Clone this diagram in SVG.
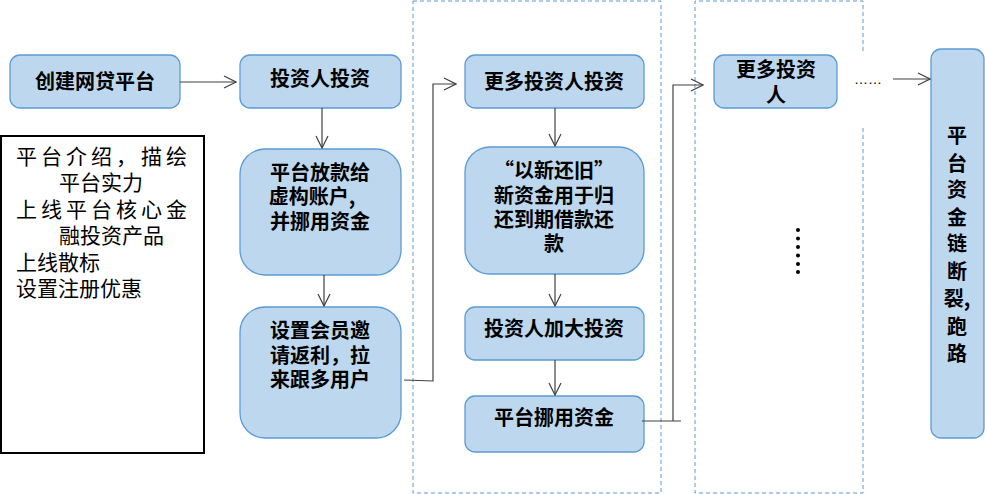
<svg xmlns="http://www.w3.org/2000/svg" width="985" height="494" viewBox="0 0 985 494">
<style>
.n{fill:#bdd7ee;stroke:#5b9bd5;stroke-width:1.3}
.t{font-family:"Noto Sans CJK SC",sans-serif;font-weight:bold;font-size:20px;fill:#000;text-anchor:middle}
.l{font-family:"Noto Sans CJK SC",sans-serif;font-size:21px;fill:#000}
.c{fill:none;stroke:#404040;stroke-width:1.2}
.d{fill:none;stroke:#5b9bd5;stroke-width:1;stroke-dasharray:4,3}
</style>
<defs><marker id="a" markerWidth="14" markerHeight="14" refX="13" refY="7" orient="auto" markerUnits="userSpaceOnUse"><path d="M1,1 L13,7 L1,13" fill="none" stroke="#404040" stroke-width="1.2"/></marker></defs>
<rect width="985" height="494" fill="#fff"/>
<path class="d" d="M413,1 H661 V493 H413 Z"/>
<path class="d" d="M863,128 V493 H695 V1 H863 V53"/>
<g id="n1"><rect class="n" x="10" y="55" width="170" height="53" rx="10"/><text class="t" x="95" y="89">创建网贷平台</text></g>
<g id="n2"><rect class="n" x="240" y="55" width="161" height="53" rx="10"/><text class="t" x="320" y="86">投资人投资</text></g>
<g id="info"><rect x="1" y="136" width="203" height="317" fill="#fff" stroke="#000" stroke-width="2"/>
<text class="l" x="16" y="164" textLength="171" lengthAdjust="spacing">平台介绍，描绘</text>
<text class="l" x="59" y="190">平台实力</text>
<text class="l" x="16" y="217" textLength="171" lengthAdjust="spacing">上线平台核心金</text>
<text class="l" x="59" y="243">融投资产品</text>
<text class="l" x="16" y="270">上线散标</text>
<text class="l" x="16" y="296">设置注册优惠</text></g>
<g id="n3"><rect class="n" x="240" y="149" width="161" height="126" rx="25"/><text class="t" x="320" y="180">平台放款给</text><text class="t" x="312" y="204">虚构账户,</text><text class="t" x="320" y="229">并挪用资金</text></g>
<g id="n4"><rect class="n" x="240" y="307" width="161" height="131" rx="25"/><text class="t" x="320" y="338">设置会员邀</text><text class="t" x="320" y="363">请返利，拉</text><text class="t" x="320" y="387">来跟多用户</text></g>
<g id="n5"><rect class="n" x="465" y="55" width="179" height="53" rx="10"/><text class="t" x="554" y="89">更多投资人投资</text></g>
<g id="n6"><rect class="n" x="465" y="147" width="179" height="127" rx="25"/><text class="t" x="554" y="178">“以新还旧”</text><text class="t" x="554" y="203">新资金用于归</text><text class="t" x="554" y="227">还到期借款还</text><text class="t" x="554" y="251">款</text></g>
<g id="n7"><rect class="n" x="465" y="307" width="179" height="53" rx="10"/><text class="t" x="554" y="336">投资人加大投资</text></g>
<g id="n8"><rect class="n" x="465" y="396" width="179" height="56" rx="10"/><text class="t" x="554" y="425">平台挪用资金</text></g>
<g id="n9"><rect class="n" x="714" y="55" width="123" height="53" rx="10"/><text class="t" x="776" y="77">更多投资</text><text class="t" x="776" y="102">人</text></g>
<g id="n10"><rect class="n" x="931" y="49" width="53" height="389" rx="10"/>
<g class="t"><text x="957" y="143">平</text><text x="957" y="171">台</text><text x="957" y="197">资</text><text x="957" y="225">金</text><text x="957" y="251">链</text><text x="957" y="279">断</text><text x="957" y="306">裂,</text><text x="957" y="334">跑</text><text x="957" y="361">路</text></g></g>
<g id="connectors">
<path class="c" marker-end="url(#a)" d="M180,82 H236"/>
<path class="c" marker-end="url(#a)" d="M322,108 V148"/>
<path class="c" marker-end="url(#a)" d="M324,275 V306"/>
<path class="c" marker-end="url(#a)" d="M404,380 L433,381 V84 H456"/>
<path class="c" marker-end="url(#a)" d="M555,108 V146"/>
<path class="c" marker-end="url(#a)" d="M555,274 V306"/>
<path class="c" marker-end="url(#a)" d="M555,360 V395"/>
<path class="c" marker-end="url(#a)" d="M642,421 H681 M673,421 V85 H703"/>
<path class="c" marker-end="url(#a)" d="M893,79 H930"/>
</g>
<text x="854" y="84" font-family="Liberation Sans,sans-serif" font-size="14" fill="#000">……</text>
<g fill="#000"><circle cx="798" cy="230" r="2"/><circle cx="798" cy="238.5" r="2"/><circle cx="798" cy="247" r="2"/><circle cx="798" cy="255.5" r="2"/><circle cx="798" cy="264" r="2"/><circle cx="798" cy="272" r="2"/></g>
</svg>
